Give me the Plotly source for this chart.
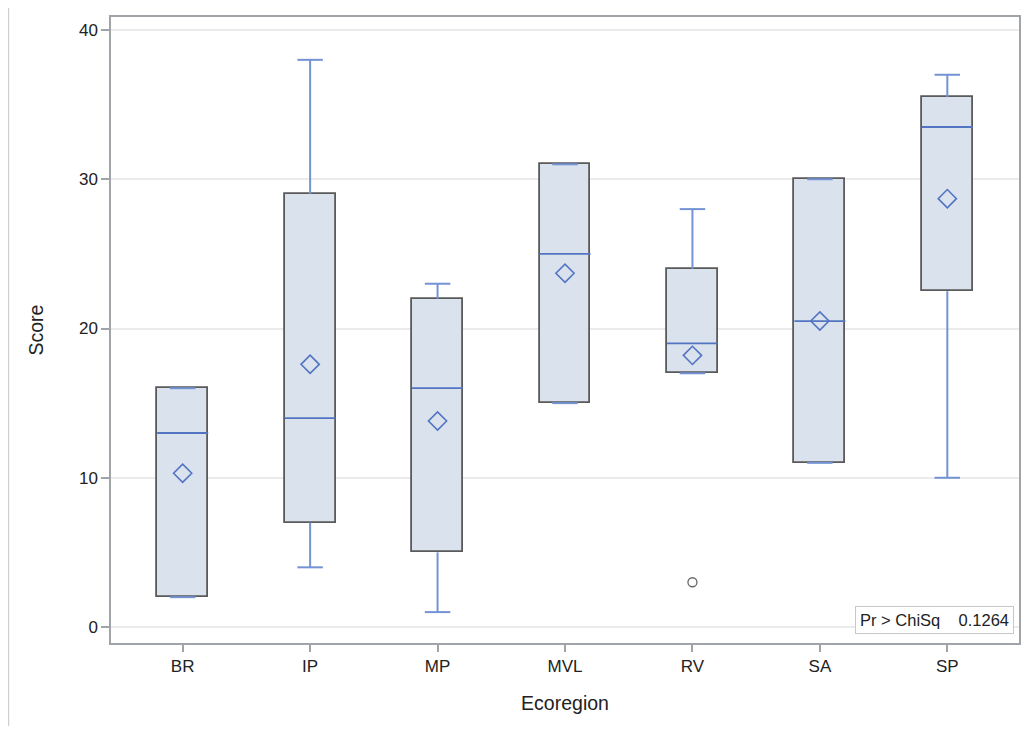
import plotly.graph_objects as go

categories = ["BR", "IP", "MP", "MVL", "RV", "SA", "SP"]
lower = [2, 4, 1, 15, 17, 11, 10]
q1 = [2, 7, 5, 15, 17, 11, 22.5]
median = [13, 14, 16, 25, 19, 20.5, 33.5]
q3 = [16, 29, 22, 31, 24, 30, 35.5]
upper = [16, 38, 23, 31, 28, 30, 37]
mean = [10.3, 17.6, 13.8, 23.7, 18.2, 20.5, 28.7]
outlier_cat = ["RV"]
outlier_val = [3]
y_ticks = [0, 10, 20, 30, 40]
stat_label = "Pr > ChiSq"
stat_value = "0.1264"

xs = list(range(len(categories)))
box_w = 0.4
cap_half = 0.1
whisk_color = "#7393d4"
med_color = "#5274c2"
box_line = "#5a5a5a"
box_fill = "#dae2ed"

fig = go.Figure()

# whiskers (vertical) and caps
wx, wy = [], []
for i in xs:
    wx += [i, i, None, i, i, None]
    wy += [lower[i], q1[i], None, q3[i], upper[i], None]
    wx += [i - cap_half, i + cap_half, None, i - cap_half, i + cap_half, None]
    wy += [lower[i], lower[i], None, upper[i], upper[i], None]

# boxes
fig.add_trace(go.Bar(x=xs, y=[q3[i] - q1[i] for i in xs], base=q1, width=box_w,
                     marker=dict(color=box_fill, line=dict(color=box_line, width=1.8)),
                     showlegend=False))
fig.add_trace(go.Scatter(x=wx, y=wy, mode="lines", line=dict(color=whisk_color, width=2),
                         hoverinfo="skip", showlegend=False))

# medians
mx, my = [], []
for i in xs:
    mx += [i - box_w / 2, i + box_w / 2, None]
    my += [median[i], median[i], None]
fig.add_trace(go.Scatter(x=mx, y=my, mode="lines", line=dict(color=med_color, width=1.8),
                         hoverinfo="skip", showlegend=False))

# means
fig.add_trace(go.Scatter(x=xs, y=mean, mode="markers",
                         marker=dict(symbol="diamond-open", size=14, color=med_color,
                                     line=dict(width=1.6, color=med_color)),
                         showlegend=False))

# outliers
fig.add_trace(go.Scatter(x=[categories.index(c) for c in outlier_cat], y=outlier_val, mode="markers",
                         marker=dict(symbol="circle-open", size=9, color="#666666",
                                     line=dict(width=1.3, color="#666666")),
                         showlegend=False))

L, R, T, B = 103, 1, 9, 83
W, H = 1014, 718
pw, ph = W - L - R, H - T - B

fig.update_layout(
    width=W, height=H,
    margin=dict(l=L, r=R, t=T, b=B),
    plot_bgcolor="white", paper_bgcolor="white",
    bargap=0,
    font=dict(family="Liberation Sans, Arial, sans-serif", size=17, color="#222222"),
    xaxis=dict(range=[-0.5625, 6.5625], tickvals=xs, ticktext=categories,
               showgrid=False, zeroline=False, ticks="outside", ticklen=7, tickcolor="#a0a4a8",
               tickwidth=1.5,
               showline=True, linecolor="#a0a4a8", linewidth=1.5, mirror=True,
               title=dict(text="Ecoregion", font=dict(size=19.5), standoff=21)),
    yaxis=dict(range=[-1.07, 40.87], tickvals=y_ticks,
               showgrid=True, gridcolor="#ebebeb", gridwidth=1.5, zeroline=False,
               ticks="outside", ticklen=8, tickcolor="#a0a4a8", tickwidth=1.5,
               showline=True, linecolor="#a0a4a8", linewidth=1.5, mirror=True,
               title=dict(text="Score", font=dict(size=19.5), standoff=30)),
    shapes=[dict(type="line", xref="paper", yref="paper", x0=-L / pw, x1=-L / pw,
                 y0=-B / ph, y1=1 + T / ph, line=dict(color="#d0d0d0", width=2))],
    annotations=[dict(xref="paper", yref="paper", x=(1016 - 8 - L) / pw, y=9 / ph,
                      xanchor="right", yanchor="bottom",
                      text=stat_label + "&nbsp;&nbsp;&nbsp;&nbsp;" + stat_value, showarrow=False,
                      font=dict(size=16.5, color="#222222"), bgcolor="white",
                      bordercolor="#c8c8c8", borderwidth=1, borderpad=4)],
)

fig.write_html("out.html")
